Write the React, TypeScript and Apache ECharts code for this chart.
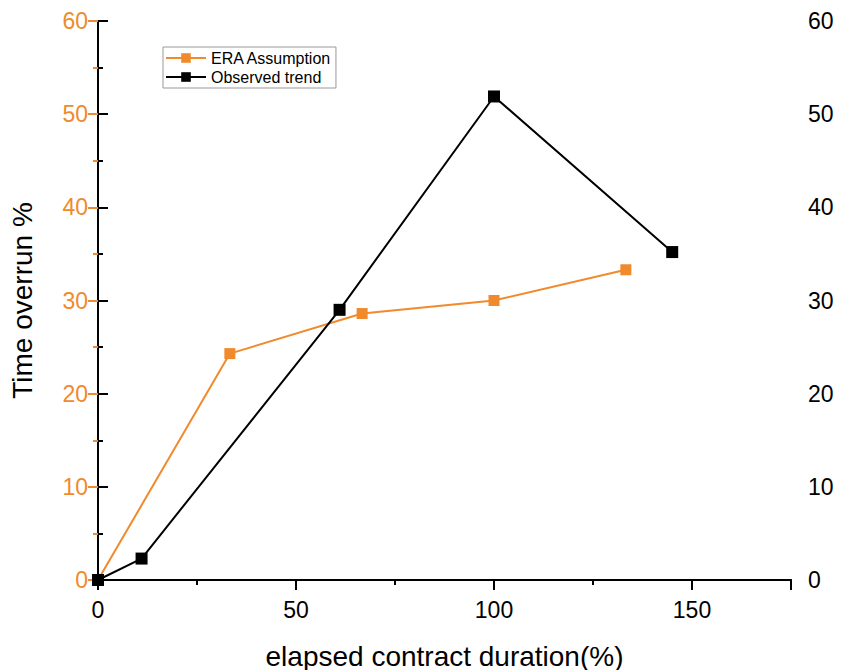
import React, { useEffect, useRef } from "react";
import * as echarts from "echarts";

const eraX = [0, 33.3, 66.7, 100, 133.3];
const eraY = [0, 24.3, 28.6, 30, 33.3];
const obsX = [0, 11, 61, 100, 145];
const obsY = [0, 2.3, 29, 51.9, 35.2];
const seriesNames = ["ERA Assumption", "Observed trend"];

const ORANGE = "#f08a2c";
const FONT = "Liberation Sans, Arial, sans-serif";

export default function App() {
  const ref = useRef<HTMLDivElement>(null);
  useEffect(() => {
    const chart = echarts.init(ref.current!, undefined, { renderer: "svg" });
    const labelStyle = { fontSize: 23, fontFamily: FONT };
    const tick = (color: string, inside: boolean) => ({
      axisTick: { show: true, inside, length: inside ? 5 : 10, lineStyle: { color, width: 2 } },
      minorTick: { show: true, splitNumber: 2, length: inside ? 4 : 5, lineStyle: { color, width: 2 } },
    });
    chart.setOption({
      animation: false,
      backgroundColor: "#fff",
      grid: { left: 98, right: 50, top: 21, bottom: 90, containLabel: false, outerBoundsMode: "none" },
      legend: {
        left: 163,
        top: 47,
        orient: "vertical",
        data: seriesNames,
        itemWidth: 40,
        itemHeight: 12,
        itemGap: 3,
        padding: [3, 4, 3, 2],
        borderColor: "#999",
        borderWidth: 1,
        textStyle: { fontSize: 16, fontFamily: FONT, color: "#000" },
      },
      xAxis: [
        {
          type: "value",
          min: 0,
          max: 175,
          interval: 50,
          position: "bottom",
          name: "elapsed contract duration(%)",
          nameLocation: "middle",
          nameGap: 62,
          nameTextStyle: { fontSize: 28, fontFamily: FONT, color: "#000" },
          axisLine: { lineStyle: { color: "#000", width: 2 } },
          ...tick("#000", false),
          axisLabel: { ...labelStyle, color: "#000", margin: 18, showMaxLabel: false },
          splitLine: { show: false },
        },
        {
          type: "value",
          min: 0,
          max: 175,
          interval: 50,
          position: "top",
          axisLine: { lineStyle: { color: "#000", width: 2 } },
          ...tick("#000", true),
          axisLabel: { show: false },
          splitLine: { show: false },
        },
      ],
      yAxis: [
        {
          type: "value",
          min: 0,
          max: 60,
          interval: 10,
          position: "left",
          name: "Time overrun %",
          nameLocation: "middle",
          nameGap: 62,
          nameTextStyle: { fontSize: 28, fontFamily: FONT, color: "#000" },
          axisLine: { show: true, lineStyle: { color: ORANGE, width: 2 } },
          ...tick(ORANGE, false),
          axisLabel: { ...labelStyle, color: ORANGE, margin: 10 },
          splitLine: { show: false },
        },
        {
          type: "value",
          min: 0,
          max: 60,
          interval: 10,
          position: "right",
          axisLine: { show: true, lineStyle: { color: "#000", width: 2 } },
          ...tick("#000", false),
          axisLabel: { ...labelStyle, color: "#000", margin: 17 },
          splitLine: { show: false },
        },
      ],
      series: [
        {
          name: seriesNames[0],
          type: "line",
          xAxisIndex: 0,
          yAxisIndex: 0,
          data: eraX.map((x, i) => [x, eraY[i]]),
          symbol: "rect",
          symbolSize: 11,
          itemStyle: { color: ORANGE },
          lineStyle: { color: ORANGE, width: 2 },
          clip: true,
        },
        {
          name: seriesNames[1],
          type: "line",
          xAxisIndex: 0,
          yAxisIndex: 1,
          data: obsX.map((x, i) => [x, obsY[i]]),
          symbol: "rect",
          symbolSize: 12,
          itemStyle: { color: "#000" },
          lineStyle: { color: "#000", width: 2 },
          clip: true,
        },
      ],
    });
    return () => chart.dispose();
  }, []);
  return (
    <div
      ref={ref}
      style={{ position: "fixed", left: 0, top: 0, width: 841, height: 670 }}
    />
  );
}
